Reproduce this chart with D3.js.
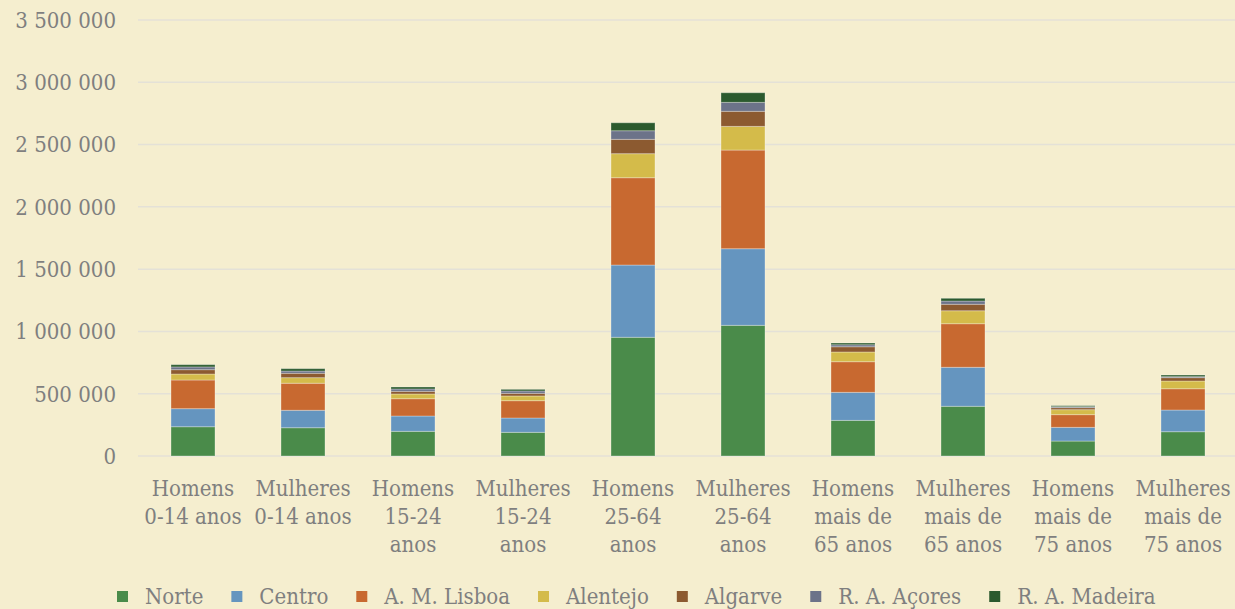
<!DOCTYPE html>
<html>
<head>
<meta charset="utf-8">
<script src="https://cdn.jsdelivr.net/npm/d3@7"></script>
<style>
  body { margin: 0; background: #f5eecf; }
  svg { display: block; }
  text { font-family: "DejaVu Serif", serif; font-stretch: condensed; fill: #7f7f7f; }
</style>
</head>
<body>
<svg class="chart" width="1235" height="609"></svg>
<script>
// categories (wrapped as in the picture)
var categories = [
    ["Homens", "0-14 anos"],
    ["Mulheres", "0-14 anos"],
    ["Homens", "15-24", "anos"],
    ["Mulheres", "15-24", "anos"],
    ["Homens", "25-64", "anos"],
    ["Mulheres", "25-64", "anos"],
    ["Homens", "mais de", "65 anos"],
    ["Mulheres", "mais de", "65 anos"],
    ["Homens", "mais de", "75 anos"],
    ["Mulheres", "mais de", "75 anos"]
];

var regions = ["Norte", "Centro", "A. M. Lisboa", "Alentejo", "Algarve", "R. A. Açores", "R. A. Madeira"];
var colors = ["#4a8b4a", "#6595bf", "#c86930", "#d4bb4a", "#8c5a30", "#6c7389", "#2b5a2e"];

var norte     = [235000, 227000, 198000, 190000, 953000, 1049000, 286000, 399000, 120000, 195000];
var centro    = [145000, 140000, 123000, 115000, 580000, 615000, 225000, 313000, 110000, 174000];
var lisboa    = [230000, 217000, 139000, 139000, 701000, 792000, 246000, 350000, 102000, 171000];
var alentejo  = [48000, 45000, 38000, 38000, 193000, 190000, 78000, 104000, 40000, 62000];
var algarve   = [35000, 35000, 21000, 21000, 115000, 121000, 42000, 52000, 16000, 27000];
var acores    = [22000, 18000, 19000, 19000, 69000, 72000, 16000, 26000, 8000, 8000];
var madeira   = [18000, 19000, 16000, 13000, 64000, 77000, 14000, 22000, 8000, 13000];

var yTicks = [0, 500000, 1000000, 1500000, 2000000, 2500000, 3000000, 3500000];

var series = [norte, centro, lisboa, alentejo, algarve, acores, madeira];

var svg = d3.select("svg.chart");
var plotLeft = 138, plotRight = 1238, plotTop = 20, plotBottom = 456;

var x = d3.scaleBand()
    .domain(d3.range(categories.length))
    .range([plotLeft, plotRight])
    .paddingInner(0.6)
    .paddingOuter(0.3);

var y = d3.scaleLinear()
    .domain([0, 3500000])
    .range([plotBottom, plotTop]);

var fmt = function(v) { return d3.format(",")(v).replace(/,/g, " "); };

// gridlines
svg.selectAll(".grid")
    .data(yTicks)
    .enter()
        .append("line")
        .attr("class", "grid")
        .attr("x1", plotLeft)
        .attr("x2", 1235)
        .attr("y1", function(d) { return y(d); })
        .attr("y2", function(d) { return y(d); })
        .attr("stroke", "#e4e1d7")
        .attr("stroke-width", 1.5);

// y labels
svg.selectAll(".ylab")
    .data(yTicks)
    .enter()
        .append("text")
        .attr("class", "ylab")
        .attr("x", 116)
        .attr("y", function(d) { return y(d); })
        .attr("dy", "0.36em")
        .attr("text-anchor", "end")
        .attr("font-size", "22px")
        .text(fmt);

// stacked bars
var rows = categories.map(function(c, i) {
    var r = { i: i };
    regions.forEach(function(reg, k) { r[reg] = series[k][i]; });
    return r;
});
var stack = d3.stack().keys(regions)(rows);

var layers = svg.selectAll(".layer")
    .data(stack)
    .enter()
        .append("g")
        .attr("class", "layer")
        .attr("fill", function(d, k) { return colors[k]; });

layers.selectAll("rect")
    .data(function(d) { return d; })
    .enter()
        .append("rect")
        .attr("x", function(d) { return x(d.data.i); })
        .attr("width", x.bandwidth())
        .attr("y", function(d) { return y(d[1]); })
        .attr("height", function(d) { return y(d[0]) - y(d[1]); })
        .attr("stroke", "rgba(255,255,255,0.3)")
        .attr("stroke-width", 1);

// x labels
var xl = svg.selectAll(".xlab")
    .data(categories)
    .enter()
        .append("text")
        .attr("class", "xlab")
        .attr("text-anchor", "middle")
        .attr("font-size", "22px");

xl.selectAll("tspan")
    .data(function(d, i) { return d.map(function(t) { return { t: t, i: i }; }); })
    .enter()
        .append("tspan")
        .attr("x", function(d) { return x(d.i) + x.bandwidth() / 2; })
        .attr("y", function(d, j) { return 496 + j * 28; })
        .text(function(d) { return d.t; });

// legend
var lg = svg.append("g").attr("class", "legend");
var lx = 117;
regions.forEach(function(reg, k) {
    lg.append("rect")
        .attr("x", lx)
        .attr("y", 591)
        .attr("width", 11)
        .attr("height", 11)
        .attr("fill", colors[k]);
    var t = lg.append("text")
        .attr("x", lx + 28)
        .attr("y", 604)
        .attr("font-size", "22px")
        .text(reg);
    lx = lx + 28 + t.node().getComputedTextLength() + 28;
});
</script>
</body>
</html>
